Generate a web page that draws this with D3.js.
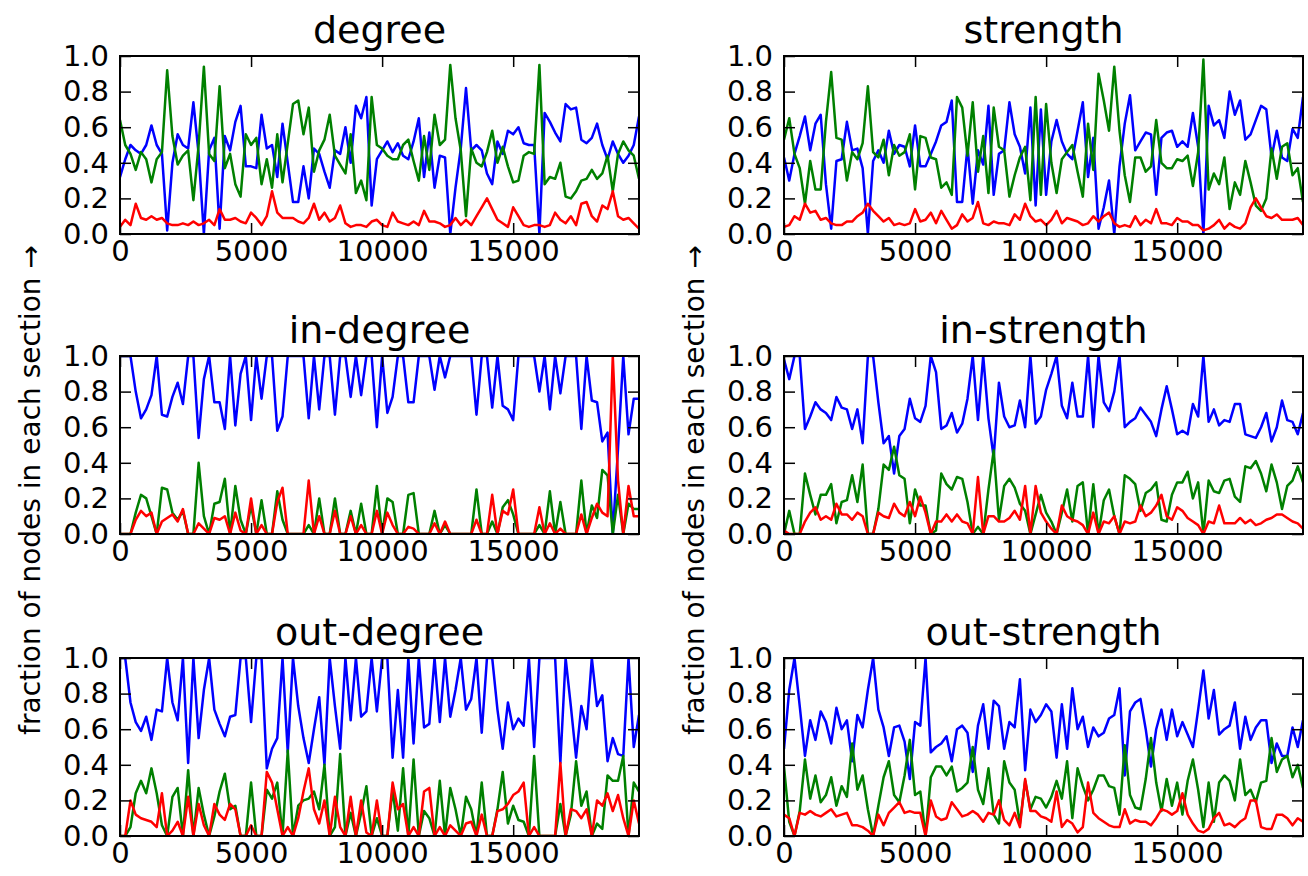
<!DOCTYPE html>
<html><head><meta charset="utf-8">
<script src="https://cdn.jsdelivr.net/npm/d3@7"></script>
<style>body{margin:0;background:#fff} text{font-family:"DejaVu Sans",sans-serif;fill:#000}</style>
</head><body><svg id="c" width="1308" height="876"></svg>
<script>
const titles = ["degree","strength","in-degree","in-strength","out-degree","out-strength"];
const xTicks = [0,5000,10000,15000];
const yTicks = [0,0.2,0.4,0.6,0.8,1.0];
const yLabel = "fraction of nodes in each section \u2192";
const sampleX = d3.range(0, 20000, 200);

const degreeBlue = [0.32,0.42,0.5,0.47,0.45,0.5,0.61,0.5,0.45,0.02,0.4,0.56,0.5,0.48,0.74,0.45,0.0,0.47,0.54,0.03,0.55,0.47,0.63,0.72,0.38,0.38,0.37,0.67,0.48,0.5,0.32,0.62,0.4,0.18,0.18,0.38,0.2,0.48,0.45,0.35,0.26,0.47,0.45,0.6,0.4,0.72,0.65,0.77,0.16,0.42,
0.47,0.52,0.46,0.51,0.44,0.42,0.52,0.65,0.32,0.57,0.26,0.44,0.43,0.0,0.26,0.48,0.82,0.47,0.5,0.47,0.34,0.28,0.52,0.45,0.58,0.56,0.6,0.51,0.5,0.5,0.0,0.68,0.63,0.57,0.52,0.73,0.7,0.71,0.53,0.51,0.54,0.62,0.5,0.42,0.52,0.45,0.4,0.44,0.5,0.66];
const degreeGreen = [0.64,0.5,0.45,0.36,0.46,0.42,0.29,0.42,0.46,0.92,0.55,0.39,0.44,0.47,0.19,0.5,0.94,0.45,0.41,0.83,0.37,0.45,0.28,0.21,0.56,0.5,0.54,0.28,0.42,0.26,0.56,0.29,0.51,0.73,0.75,0.56,0.71,0.35,0.47,0.53,0.67,0.44,0.39,0.34,0.56,0.23,0.3,0.19,0.77,0.5,
0.48,0.44,0.42,0.42,0.5,0.53,0.41,0.3,0.55,0.36,0.67,0.5,0.53,0.95,0.65,0.47,0.1,0.48,0.4,0.38,0.46,0.58,0.4,0.49,0.38,0.29,0.3,0.44,0.46,0.45,0.95,0.28,0.32,0.31,0.4,0.21,0.2,0.24,0.3,0.31,0.36,0.31,0.34,0.44,0.24,0.45,0.52,0.47,0.44,0.31];
const degreeRed = [0.04,0.08,0.05,0.17,0.09,0.08,0.1,0.08,0.09,0.06,0.05,0.05,0.06,0.05,0.07,0.05,0.06,0.08,0.05,0.14,0.08,0.08,0.09,0.07,0.06,0.12,0.09,0.05,0.1,0.24,0.12,0.09,0.09,0.09,0.07,0.06,0.09,0.17,0.08,0.12,0.07,0.09,0.16,0.06,0.04,0.05,0.05,0.04,0.07,0.08,
0.05,0.04,0.12,0.07,0.06,0.05,0.07,0.05,0.13,0.07,0.07,0.06,0.04,0.05,0.09,0.05,0.08,0.05,0.1,0.15,0.2,0.14,0.08,0.06,0.04,0.15,0.1,0.05,0.04,0.05,0.05,0.04,0.05,0.12,0.08,0.06,0.1,0.05,0.17,0.18,0.1,0.07,0.16,0.14,0.24,0.1,0.08,0.09,0.06,0.03];

const strengthBlue = [0.43,0.3,0.45,0.55,0.66,0.47,0.62,0.67,0.28,0.03,0.41,0.42,0.63,0.47,0.48,0.37,0.0,0.41,0.47,0.4,0.58,0.45,0.5,0.49,0.38,0.61,0.38,0.38,0.45,0.52,0.61,0.63,0.75,0.18,0.18,0.49,0.17,0.47,0.39,0.72,0.22,0.45,0.47,0.74,0.56,0.49,0.34,0.71,0.16,0.7,
0.22,0.52,0.64,0.52,0.45,0.42,0.58,0.74,0.32,0.54,0.03,0.15,0.3,0.0,0.38,0.62,0.78,0.47,0.52,0.57,0.56,0.22,0.54,0.57,0.58,0.49,0.52,0.49,0.68,0.49,0.0,0.72,0.61,0.64,0.54,0.8,0.67,0.75,0.53,0.56,0.64,0.72,0.7,0.43,0.58,0.43,0.41,0.59,0.54,0.77];
const strengthGreen = [0.53,0.65,0.45,0.37,0.17,0.41,0.25,0.25,0.63,0.91,0.54,0.53,0.3,0.46,0.42,0.51,0.83,0.46,0.43,0.53,0.33,0.5,0.44,0.46,0.56,0.25,0.55,0.54,0.43,0.42,0.26,0.29,0.22,0.77,0.71,0.44,0.74,0.35,0.55,0.23,0.71,0.49,0.47,0.21,0.33,0.43,0.49,0.19,0.77,0.22,
0.73,0.4,0.23,0.42,0.46,0.5,0.35,0.21,0.62,0.36,0.9,0.75,0.58,0.94,0.58,0.33,0.18,0.43,0.43,0.35,0.38,0.64,0.4,0.37,0.37,0.42,0.41,0.44,0.27,0.46,0.98,0.25,0.34,0.28,0.43,0.14,0.29,0.22,0.41,0.29,0.16,0.13,0.2,0.48,0.31,0.49,0.51,0.33,0.37,0.18];
const strengthRed = [0.04,0.05,0.1,0.08,0.17,0.12,0.13,0.08,0.09,0.06,0.05,0.05,0.07,0.07,0.1,0.12,0.17,0.13,0.1,0.07,0.09,0.05,0.06,0.05,0.06,0.14,0.07,0.08,0.12,0.06,0.13,0.08,0.03,0.05,0.11,0.07,0.09,0.18,0.06,0.05,0.07,0.06,0.06,0.05,0.11,0.08,0.17,0.1,0.07,0.08,
0.05,0.08,0.13,0.06,0.09,0.08,0.07,0.05,0.06,0.1,0.07,0.1,0.12,0.06,0.04,0.05,0.04,0.1,0.05,0.08,0.06,0.14,0.06,0.06,0.05,0.09,0.07,0.07,0.05,0.05,0.02,0.03,0.05,0.08,0.03,0.06,0.04,0.03,0.06,0.15,0.2,0.15,0.1,0.09,0.11,0.08,0.08,0.08,0.09,0.05];

const inDegreeBlue = [1,1,1,0.8,0.65,0.7,0.78,1,0.67,0.66,0.77,0.85,0.73,1,1,0.54,0.87,1,0.74,0.74,0.59,1,0.61,0.9,1,0.64,1,0.76,1,1,0.58,0.66,1,1,1,1,0.65,1,0.7,1,1,0.67,1,1,0.77,1,0.78,1,1,0.6,
1,0.68,0.77,1,1,0.74,0.74,1,1,1,0.81,1,0.88,1,1,1,1,1,0.67,1,1,0.71,1,0.72,0.7,0.64,1,1,1,1,0.8,1,0.7,1,0.79,1,1,1,0.59,1,0.75,0.74,0.52,0.57,0,0.48,1,0.56,0.76,0.76];
const inDegreeGreen = [0,0,0,0.12,0.22,0.2,0.1,0,0.26,0.25,0.12,0.08,0.13,0,0,0.4,0.1,0,0.17,0.18,0.31,0,0.27,0.08,0,0.16,0,0.19,0,0,0.24,0.08,0,0,0,0,0.05,0,0.2,0,0,0.2,0,0,0.13,0,0.17,0,0,0.27,
0,0.2,0.18,0,0,0.22,0.23,0,0,0,0.13,0,0.05,0,0,0,0,0,0.25,0,0,0.07,0,0.15,0.19,0.11,0,0,0,0,0.05,0,0.24,0,0.18,0,0,0,0.3,0,0.16,0.09,0.36,0.33,0,0.22,0,0.17,0.14,0.14];
const inDegreeRed = [0,0,0,0.08,0.13,0.1,0.12,0,0.07,0.09,0.11,0.07,0.14,0,0,0.06,0.03,0,0.09,0.08,0.1,0,0.12,0.02,0,0.2,0,0.05,0,0,0.18,0.26,0,0,0,0,0.3,0,0.1,0,0,0.13,0,0,0.1,0,0.05,0,0,0.13,
0,0.12,0.05,0,0,0.04,0.03,0,0,0,0.06,0,0.07,0,0,0,0,0,0.08,0,0,0.22,0,0.13,0.11,0.25,0,0,0,0,0.15,0,0.06,0,0.03,0,0,0,0.11,0,0.09,0.17,0.12,0.1,1,0.3,0,0.27,0.1,0.1];

const inStrengthBlue = [0.98,0.87,1,1,0.59,0.66,0.74,0.7,0.68,0.64,0.77,0.71,0.7,0.59,0.7,0.51,1,1,0.74,0.51,0.55,0.34,0.55,0.59,0.76,0.65,0.63,0.72,1,0.91,0.59,0.61,0.68,0.57,0.62,0.76,1,0.64,1,0.65,0.43,0.85,0.66,0.6,0.61,0.75,0.6,1,0.62,0.66,
0.81,0.9,1,0.72,0.65,0.85,0.66,0.66,1,0.6,1,0.74,0.69,0.8,1,0.6,0.63,0.65,0.71,0.67,0.63,0.55,0.7,0.83,0.7,0.56,0.58,0.56,0.73,0.66,1,0.63,0.7,0.61,0.64,0.63,0.73,0.73,0.56,0.55,0.54,0.6,0.68,0.52,0.6,0.75,0.64,0.63,0.56,0.68];
const inStrengthGreen = [0,0.13,0,0,0.34,0.22,0.11,0.22,0.22,0.28,0.06,0.18,0.19,0.33,0.18,0.39,0,0,0.14,0.39,0.36,0.49,0.33,0.31,0.06,0.25,0.16,0.16,0,0.02,0.34,0.28,0.25,0.32,0.31,0.18,0,0.04,0,0.25,0.47,0.08,0.27,0.31,0.26,0.17,0.13,0,0.11,0.22,
0.12,0.07,0,0.12,0.25,0.07,0.27,0.29,0,0.28,0,0.19,0.25,0.1,0,0.33,0.31,0.28,0.13,0.23,0.25,0.29,0.08,0.07,0.22,0.29,0.29,0.35,0.2,0.29,0,0.3,0.24,0.23,0.3,0.31,0.21,0.18,0.38,0.37,0.41,0.34,0.24,0.39,0.29,0.14,0.27,0.3,0.38,0.29];
const inStrengthRed = [0.02,0,0,0,0.07,0.12,0.15,0.08,0.1,0.08,0.17,0.11,0.11,0.08,0.12,0.1,0,0,0.12,0.1,0.09,0.17,0.12,0.1,0.18,0.1,0.21,0.12,0,0.07,0.07,0.11,0.07,0.11,0.07,0.06,0,0.32,0,0.1,0.1,0.07,0.07,0.09,0.13,0.08,0.27,0,0.27,0.12,
0.07,0.03,0,0.16,0.1,0.08,0.07,0.05,0,0.12,0,0.07,0.06,0.1,0,0.07,0.06,0.07,0.16,0.1,0.12,0.16,0.22,0.1,0.08,0.15,0.13,0.09,0.07,0.05,0,0.07,0.06,0.16,0.06,0.06,0.06,0.09,0.06,0.08,0.05,0.06,0.08,0.09,0.11,0.11,0.09,0.07,0.06,0.03];

const outDegreeBlue = [1,1,0.75,0.64,0.59,0.67,0.54,0.71,0.7,1,0.75,0.65,1,0.41,1,0.55,0.82,1,0.71,0.63,0.56,0.67,0.68,1,1,0.64,1,1,0.38,0.49,0.55,1,0.47,1,0.73,0.55,0.41,0.6,0.78,0.4,1,0.73,0.49,1,0.65,1,0.67,0.7,1,0.7,
1,1,0.44,0.82,0.44,1,0.52,1,0.61,0.63,1,0.64,1,0.67,0.82,1,0.71,0.77,1,0.58,1,1,0.71,0.49,0.75,0.6,0.66,0.62,1,0.5,1,1,1,1,0.41,1,0.73,0.44,0.73,0.6,1,0.73,0.79,0.42,0.55,0.46,0.45,1,0.5,0.68];
const outDegreeGreen = [0,0,0.05,0.24,0.31,0.24,0.38,0.24,0.06,0,0.22,0.27,0,0.37,0,0.27,0.12,0,0.11,0.25,0.35,0.15,0.17,0,0,0.3,0,0,0.26,0.21,0.3,0,0.48,0,0.17,0.2,0.21,0.25,0.15,0.4,0,0.05,0.46,0,0.13,0,0.13,0.28,0,0.1,
0,0,0.26,0.03,0.38,0,0.43,0,0.14,0.1,0,0.31,0,0.27,0.15,0,0.22,0.15,0,0.3,0,0,0.15,0.36,0.07,0.17,0.09,0.08,0,0.45,0,0,0,0,0.18,0,0.12,0.42,0.17,0.25,0,0.07,0.04,0.34,0.31,0.31,0.45,0,0.3,0.25];
const outDegreeRed = [0,0,0.2,0.12,0.1,0.09,0.08,0.05,0.24,0,0.03,0.08,0,0.22,0,0.18,0.06,0,0.18,0.12,0.09,0.18,0.15,0,0,0.06,0,0,0.36,0.3,0.15,0,0.05,0,0.1,0.25,0.38,0.15,0.07,0.2,0,0.22,0.05,0,0.22,0,0.2,0.02,0,0.2,
0,0,0.3,0.15,0.18,0,0.05,0,0.25,0.27,0,0.05,0,0.06,0.03,0,0.07,0.08,0,0.12,0,0,0.14,0.15,0.18,0.23,0.25,0.3,0,0.05,0,0,0,0,0.41,0,0.15,0.14,0.1,0.15,0,0.2,0.17,0.24,0.14,0.23,0.1,0,0.2,0.07];

const outStrengthBlue = [0.49,0.82,1,0.73,0.45,0.65,0.54,0.7,0.64,0.52,0.72,0.6,0.65,0.42,0.68,0.61,0.82,1,0.71,0.61,0.45,0.61,0.62,0.53,0.32,0.64,0.62,1,0.47,0.5,0.52,0.56,0.42,0.6,0.62,0.58,0.36,0.62,0.74,0.49,0.76,0.73,0.49,0.64,0.61,0.88,0.37,0.71,0.64,0.68,
0.74,0.7,0.44,0.74,0.49,0.83,0.6,0.67,0.5,0.61,0.56,0.58,0.66,0.68,0.83,0.34,0.7,0.75,0.77,0.6,0.39,0.6,0.71,0.54,0.71,0.56,0.64,0.57,0.5,0.71,0.93,0.66,0.82,0.57,0.6,0.62,0.75,0.49,0.67,0.54,0.61,0.65,0.65,0.41,0.52,0.45,0.45,0.61,0.5,0.65];
const outStrengthGreen = [0.39,0.08,0,0.14,0.43,0.21,0.34,0.19,0.23,0.33,0.17,0.28,0.22,0.52,0.26,0.34,0.15,0,0.17,0.33,0.42,0.23,0.19,0.34,0.54,0.23,0.25,0,0.33,0.39,0.39,0.34,0.39,0.25,0.27,0.3,0.5,0.26,0.18,0.38,0.12,0.07,0.42,0.3,0.26,0.07,0.31,0.15,0.22,0.21,
0.16,0.22,0.31,0.21,0.42,0.1,0.38,0.28,0.2,0.26,0.34,0.34,0.28,0.27,0.12,0.51,0.23,0.16,0.15,0.32,0.55,0.3,0.14,0.32,0.17,0.3,0.12,0.31,0.43,0.26,0.05,0.3,0.08,0.3,0.34,0.31,0.2,0.43,0.23,0.26,0.19,0.3,0.31,0.55,0.36,0.43,0.45,0.33,0.4,0.27];
const outStrengthRed = [0.12,0.1,0,0.13,0.12,0.14,0.12,0.11,0.13,0.15,0.11,0.12,0.13,0.06,0.06,0.05,0.03,0,0.12,0.06,0.13,0.16,0.19,0.13,0.14,0.13,0.13,0,0.2,0.11,0.09,0.1,0.19,0.15,0.11,0.12,0.14,0.12,0.08,0.13,0.12,0.2,0.09,0.06,0.13,0.05,0.32,0.14,0.14,0.11,
0.1,0.08,0.25,0.05,0.09,0.07,0.02,0.05,0.3,0.13,0.1,0.08,0.06,0.05,0.05,0.15,0.07,0.09,0.08,0.08,0.06,0.1,0.15,0.14,0.12,0.14,0.24,0.12,0.07,0.03,0.02,0.04,0.1,0.13,0.06,0.07,0.05,0.08,0.1,0.2,0.2,0.05,0.04,0.04,0.12,0.12,0.1,0.06,0.1,0.08];

const panelSeries = [
  [degreeBlue, degreeGreen, degreeRed],
  [strengthBlue, strengthGreen, strengthRed],
  [inDegreeBlue, inDegreeGreen, inDegreeRed],
  [inStrengthBlue, inStrengthGreen, inStrengthRed],
  [outDegreeBlue, outDegreeGreen, outDegreeRed],
  [outStrengthBlue, outStrengthGreen, outStrengthRed]
];
const seriesColors = ["#0000ff", "#008000", "#ff0000"];

const svg = d3.select("#c");
const colX = [120, 784];
const rowY = [56, 356, 658];
const pw = 519, ph = 178;
const tickFont = 29, titleFont = 38;

panelSeries.forEach((series, p) => {
  const col = p % 2, row = Math.floor(p / 2);
  const x0 = colX[col], y0 = rowY[row];
  const g = svg.append("g").attr("transform", `translate(${x0},${y0})`);
  const x = d3.scaleLinear().domain([0, 19800]).range([0, pw]);
  const y = d3.scaleLinear().domain([0, 1]).range([ph, 0]);

  const cid = "clip" + p;
  g.append("clipPath").attr("id", cid).append("rect").attr("width", pw).attr("height", ph);

  const line = d3.line().x((d, i) => x(sampleX[i])).y(d => y(d));
  const lg = g.append("g").attr("clip-path", `url(#${cid})`);
  series.forEach((s, k) => {
    lg.append("path").datum(s).attr("d", line)
      .attr("fill", "none").attr("stroke", seriesColors[k])
      .attr("stroke-width", 2.5).attr("stroke-linejoin", "round");
  });

  const tl = 11;
  const axB = d3.axisBottom(x).tickValues(xTicks).tickSizeInner(-tl).tickSizeOuter(0).tickPadding(6).tickFormat(d3.format("d"));
  const axT = d3.axisTop(x).tickValues(xTicks).tickSizeInner(-tl).tickSizeOuter(0).tickFormat("");
  const axL = d3.axisLeft(y).tickValues(yTicks).tickSizeInner(-tl).tickSizeOuter(0).tickPadding(11).tickFormat(d3.format(".1f"));
  const axR = d3.axisRight(y).tickValues(yTicks).tickSizeInner(-tl).tickSizeOuter(0).tickFormat("");
  const gb = g.append("g").attr("transform", `translate(0,${ph})`).call(axB);
  const gt = g.append("g").call(axT);
  const gl = g.append("g").call(axL);
  const gr = g.append("g").attr("transform", `translate(${pw},0)`).call(axR);
  [gb, gt, gl, gr].forEach(a => {
    a.select(".domain").remove();
    a.selectAll(".tick line").attr("stroke", "#000").attr("stroke-width", 1.5);
    a.selectAll("text").attr("font-size", tickFont).attr("font-family", "DejaVu Sans").attr("fill", "#000");
  });

  g.append("rect").attr("width", pw).attr("height", ph)
    .attr("fill", "none").attr("stroke", "#000").attr("stroke-width", 2);

  g.append("text").attr("x", pw / 2).attr("y", -13).attr("text-anchor", "middle")
    .attr("font-size", titleFont).text(titles[p]);
});

[30, 694].forEach(cx => {
  svg.append("text").attr("transform", `translate(${cx},490) rotate(-90)`)
    .attr("text-anchor", "middle").attr("dominant-baseline", "central")
    .attr("font-size", 28).text(yLabel);
});
</script></body></html>
